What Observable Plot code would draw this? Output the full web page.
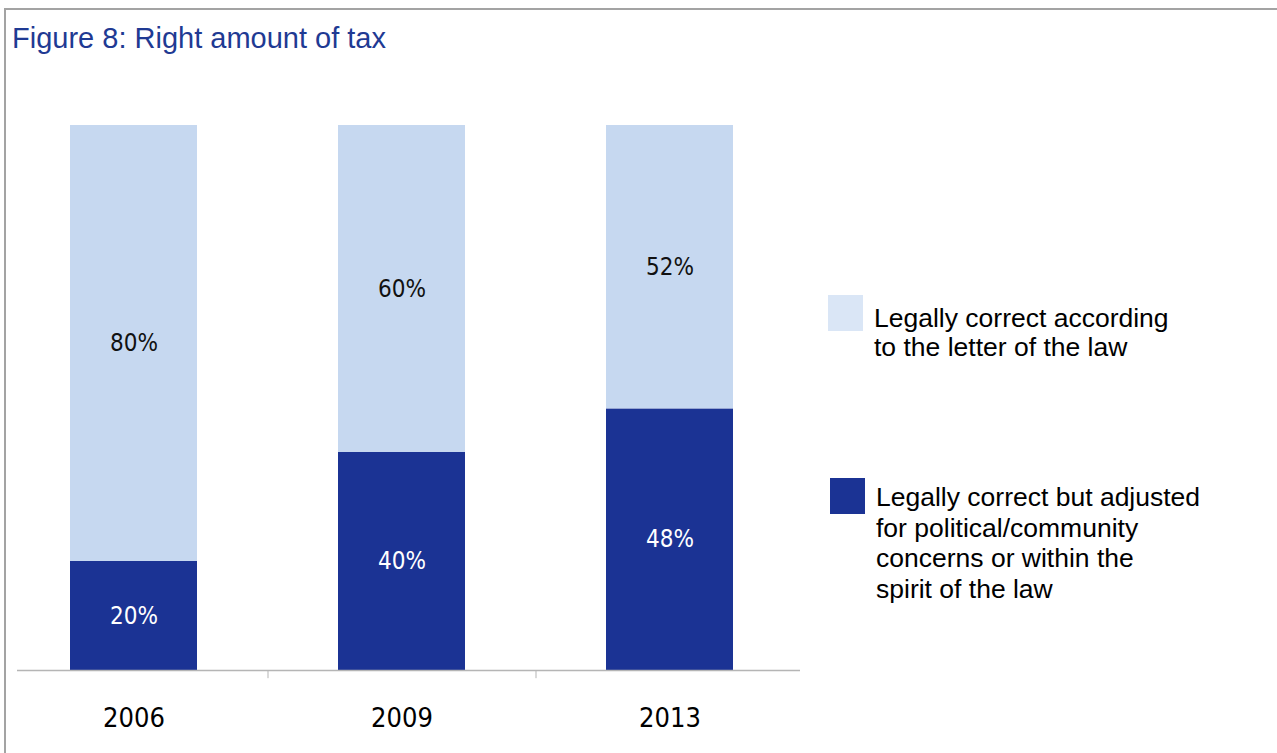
<!DOCTYPE html>
<html>
<head>
<meta charset="utf-8">
<script src="https://cdn.jsdelivr.net/npm/d3@7"></script>
<script src="https://cdn.jsdelivr.net/npm/@observablehq/plot@0.6"></script>
<style>
  html, body { margin: 0; padding: 0; background: #fff; }
  body { width: 1277px; height: 753px; position: relative; overflow: hidden; font-family: "Liberation Sans", Arial, sans-serif; }
  #frame { position: absolute; left: 4px; top: 8px; width: 1300px; height: 800px; border-top: 2px solid #a3a3a3; border-left: 2px solid #a3a3a3; }
  #title { position: absolute; left: 12px; top: 21px; font-size: 29px; line-height: 34px; color: #1f3a93; white-space: nowrap; }
  #chart { position: absolute; left: 0; top: 80px; }
  .leg { position: absolute; font-size: 26.5px; color: #000; white-space: nowrap; }
  .sw { position: absolute; }
  #chart svg text { font-stretch: condensed; }
</style>
</head>
<body>
<div id="frame"></div>
<div id="title">Figure 8: Right amount of tax</div>
<div id="chart"></div>
<div id="legend"></div>
<script>
const years = ["2006", "2009", "2013"];
const seriesNames = ["Legally correct but adjusted for political/community concerns or within the spirit of the law",
                     "Legally correct according to the letter of the law"];
const adjustedValues = [20, 40, 48];
const letterValues = [80, 60, 52];
const legendLines = [
  ["Legally correct according", "to the letter of the law"],
  ["Legally correct but adjusted", "for political/community", "concerns or within the", "spirit of the law"]
];
const colors = ["#1b3394", "#c6d8f0"];
const legendSwatch = ["#1b3394", "#dae6f6"];

const data = [];
years.forEach((y, i) => {
  data.push({year: y, series: seriesNames[0], value: adjustedValues[i]});
  data.push({year: y, series: seriesNames[1], value: letterValues[i]});
});

const narrow = '"DejaVu Sans Condensed", "DejaVu Sans", sans-serif';

const W = 810, H = 670;
const plot = Plot.plot({
  width: W,
  height: H,
  marginLeft: 0,
  marginRight: 6,
  marginTop: 45,
  marginBottom: 80,
  style: {fontFamily: narrow, background: "transparent", fontStretch: "condensed"},
  x: {domain: years, paddingInner: 0.526, paddingOuter: 0.263, axis: null, label: null},
  y: {domain: [0, 100], axis: null},
  color: {domain: seriesNames, range: colors},
  marks: [
    Plot.barY(data, Plot.stackY({x: "year", y: "value", fill: "series", order: seriesNames})),
    Plot.text(data, Plot.stackY({
      x: "year", y: "value", z: "series", order: seriesNames,
      text: d => d.value + "%",
      fill: d => d.series === seriesNames[0] ? "#ffffff" : "#111111",
      fontSize: 24, fontFamily: narrow
    })),
    Plot.ruleY([0], {stroke: "#b5b5b5", strokeWidth: 1.5, insetLeft: 17, insetRight: 4}),
    Plot.ruleX(years.slice(1), {x: d => d, y1: 0, y2: -1.5, dx: -134, stroke: "#b5b5b5"}),
    Plot.axisX({domain: years, tickSize: 0, fontSize: 27, dy: 28, fontFamily: narrow, fill: "#000", label: null}),
  ]
});
document.getElementById("chart").appendChild(plot);

// legend
const legend = document.getElementById("legend");
const legendItems = [
  {lines: legendLines[0], color: legendSwatch[1], sx: 828, sy: 295, tx: 874, ty: 304, lh: 29},
  {lines: legendLines[1], color: legendSwatch[0], sx: 830, sy: 478, tx: 876, ty: 482, lh: 30.7}
];
legendItems.forEach(it => {
  const sw = document.createElement("div");
  sw.className = "sw";
  Object.assign(sw.style, {left: it.sx + "px", top: it.sy + "px", width: "35px", height: "36px", background: it.color});
  legend.appendChild(sw);
  const t = document.createElement("div");
  t.className = "leg";
  Object.assign(t.style, {left: it.tx + "px", top: it.ty + "px", lineHeight: it.lh + "px"});
  t.innerHTML = it.lines.join("<br>");
  legend.appendChild(t);
});
</script>
</body>
</html>
